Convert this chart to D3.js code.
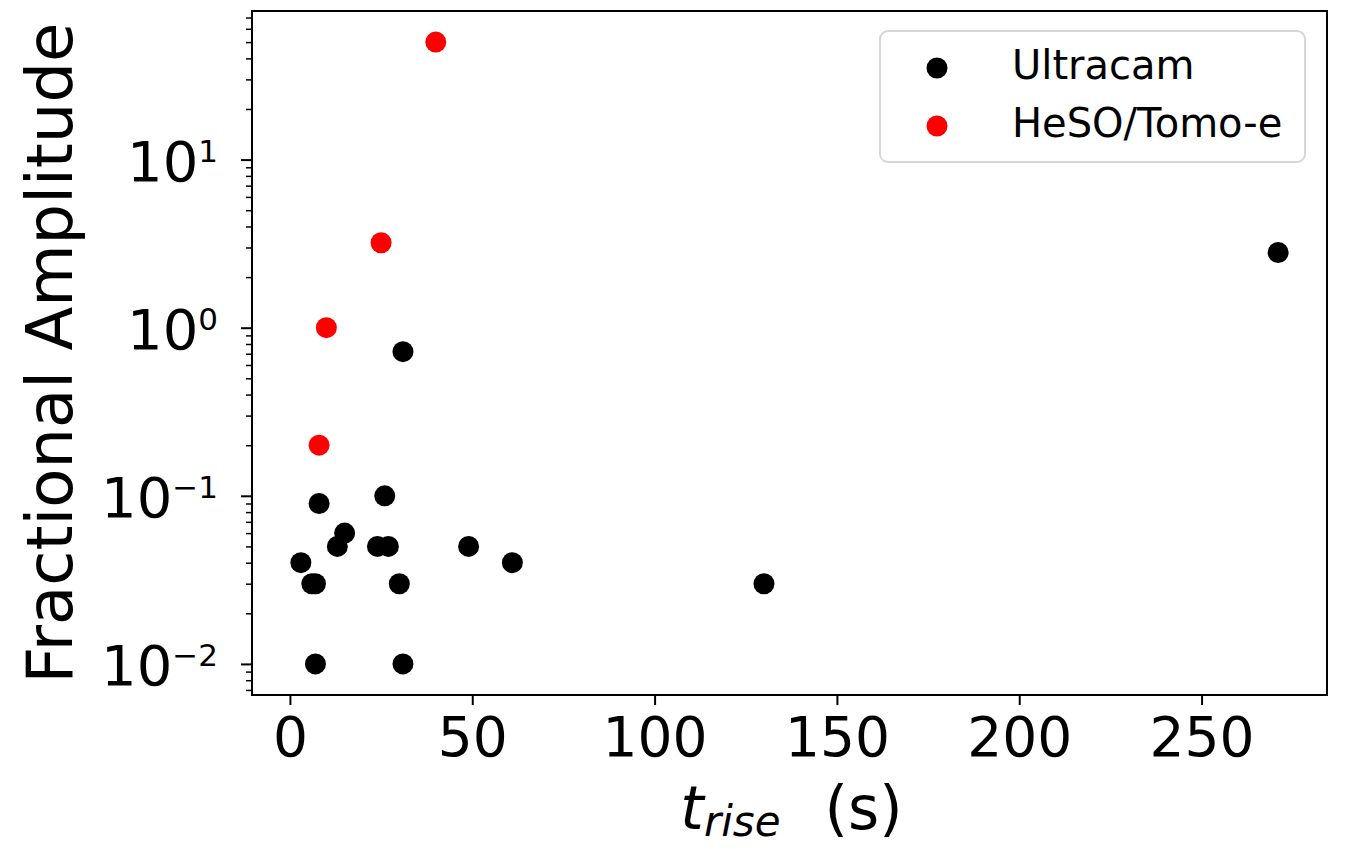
<!DOCTYPE html>
<html>
<head>
<meta charset="utf-8">
<script src="https://cdn.jsdelivr.net/npm/d3@7"></script>
<style>
  html, body { margin: 0; padding: 0; background: #fff; }
  svg { display: block; font-family: "DejaVu Sans", sans-serif; }
</style>
</head>
<body>
<svg id="chart" width="1345" height="849"></svg>
<script>
// Rise time (s) and fractional amplitude per instrument
const ultracamRise = [3, 6, 7, 7, 8, 13, 15, 24, 26, 27, 30, 31, 31, 49, 61, 130, 271];
const ultracamAmp  = [0.04, 0.03, 0.03, 0.01, 0.09, 0.05, 0.06, 0.05, 0.1, 0.05, 0.03, 0.01, 0.72, 0.05, 0.04, 0.03, 2.8];
const hesoRise = [8, 10, 25, 40];
const hesoAmp  = [0.2, 1.0, 3.2, 50];

const xTicks = [0, 50, 100, 150, 200, 250];
const yMajorTicks = [0.01, 0.1, 1, 10];
const yTickExponents = ["\u22122", "\u22121", "0", "1"];

const seriesNames = ["Ultracam", "HeSO/Tomo-e"];
const seriesColors = ["#000000", "#ff0000"];

const svg = d3.select("#chart");
const plotL = 252, plotR = 1327, plotT = 11, plotB = 695;

// Axis limits padded by 5% of the data span (log space for y)
const allX = ultracamRise.concat(hesoRise);
const allY = ultracamAmp.concat(hesoAmp);
const [xMin, xMax] = d3.extent(allX);
const xPad = (xMax - xMin) * 0.05;
const [lyMin, lyMax] = d3.extent(allY).map(Math.log10);
const lyPad = (lyMax - lyMin) * 0.05;

const x = d3.scaleLinear().domain([xMin - xPad, xMax + xPad]).range([plotL, plotR]);
const y = d3.scaleLog().domain([Math.pow(10, lyMin - lyPad), Math.pow(10, lyMax + lyPad)]).range([plotB, plotT]);

// Minor log ticks (2..9 of each decade inside the domain)
const yMinor = [];
for (let e = -3; e <= 2; e++) {
  for (let m = 2; m <= 9; m++) {
    const v = m * Math.pow(10, e);
    if (v >= y.domain()[0] && v <= y.domain()[1]) yMinor.push(v);
  }
}

// x axis
svg.append("g")
  .attr("transform", `translate(0,${plotB})`)
  .call(d3.axisBottom(x).tickValues(xTicks).tickSize(10).tickPadding(12).tickFormat(d3.format("d")))
  .call(g => g.select(".domain").remove())
  .call(g => g.selectAll(".tick line").attr("stroke", "#000").attr("stroke-width", 2))
  .call(g => g.selectAll(".tick text").attr("font-size", 55).attr("fill", "#000")
      .attr("font-family", "DejaVu Sans").attr("dy", "0.71em"));

// y axis minor ticks
svg.append("g")
  .attr("transform", `translate(${plotL},0)`)
  .call(d3.axisLeft(y).tickValues(yMinor).tickSize(6).tickFormat(""))
  .call(g => g.select(".domain").remove())
  .call(g => g.selectAll(".tick line").attr("stroke", "#000").attr("stroke-width", 1.5));

// y axis major ticks with power-of-ten labels
svg.append("g")
  .attr("transform", `translate(${plotL},0)`)
  .call(d3.axisLeft(y).tickValues(yMajorTicks).tickSize(11).tickPadding(23).tickFormat(""))
  .call(g => g.select(".domain").remove())
  .call(g => g.selectAll(".tick line").attr("stroke", "#000").attr("stroke-width", 2))
  .call(g => g.selectAll(".tick text").each(function(d, i) {
      const t = d3.select(this)
        .attr("font-family", "DejaVu Sans")
        .attr("fill", "#000")
        .attr("dy", null)
        .attr("y", 21)
        .attr("text-anchor", "end");
      t.append("tspan").attr("font-size", 56).text("10");
      t.append("tspan").attr("font-size", 31).attr("dy", -19).text(yTickExponents[i]);
  }));

// plot frame
svg.append("rect")
  .attr("x", plotL).attr("y", plotT)
  .attr("width", plotR - plotL).attr("height", plotB - plotT)
  .attr("fill", "none").attr("stroke", "#000").attr("stroke-width", 2);

// points
const dotR = 10.5;
svg.append("g").selectAll("circle")
  .data(d3.zip(ultracamRise, ultracamAmp))
  .join("circle")
  .attr("cx", d => x(d[0])).attr("cy", d => y(d[1]))
  .attr("r", dotR).attr("fill", seriesColors[0]);

svg.append("g").selectAll("circle")
  .data(d3.zip(hesoRise, hesoAmp))
  .join("circle")
  .attr("cx", d => x(d[0])).attr("cy", d => y(d[1]))
  .attr("r", dotR).attr("fill", seriesColors[1]);

// legend
const legend = svg.append("g");
legend.append("rect")
  .attr("x", 880).attr("y", 31).attr("width", 425).attr("height", 131)
  .attr("rx", 8).attr("ry", 8)
  .attr("fill", "#fff").attr("fill-opacity", 0.8)
  .attr("stroke", "#d6d6d6").attr("stroke-width", 2);
seriesNames.forEach((name, i) => {
  const cy = 68 + i * 58;
  legend.append("circle").attr("cx", 937).attr("cy", cy).attr("r", dotR).attr("fill", seriesColors[i]);
  legend.append("text")
    .attr("x", 1012).attr("y", cy + 11)
    .attr("font-size", 40).attr("fill", "#000")
    .text(name);
});

// axis labels
const xl = svg.append("text")
  .attr("x", (plotL + plotR) / 2 + 2).attr("y", 829)
  .attr("text-anchor", "middle").attr("fill", "#000").attr("font-size", 60);
xl.append("tspan").attr("font-style", "italic").text("t");
xl.append("tspan").attr("font-style", "italic").attr("font-size", 42).attr("dy", 7).text("rise");
xl.append("tspan").attr("dy", -7).attr("dx", 44).text("(s)");

svg.append("text")
  .attr("transform", `translate(72,${(plotT + plotB) / 2}) rotate(-90)`)
  .attr("text-anchor", "middle").attr("fill", "#000").attr("font-size", 64)
  .text("Fractional Amplitude");
</script>
</body>
</html>
